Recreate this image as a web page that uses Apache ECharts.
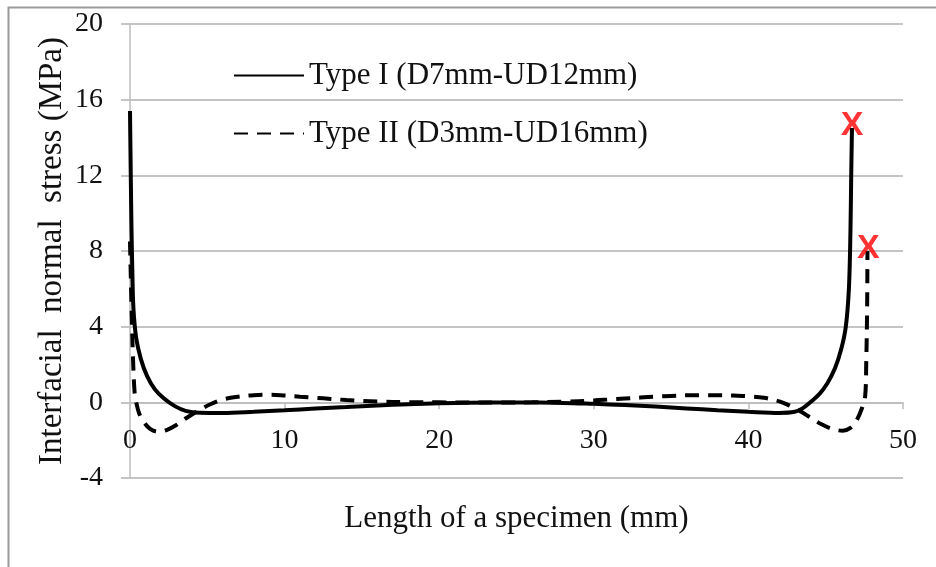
<!DOCTYPE html>
<html>
<head>
<meta charset="utf-8">
<script src="https://cdn.jsdelivr.net/npm/echarts@6/dist/echarts.min.js"></script>
<style>
html,body{margin:0;padding:0;background:#fff;}
#chart{width:936px;height:567px;}
</style>
</head>
<body>
<div id="chart"></div>
<script>
var seriesNames = ['Type I (D7mm-UD12mm)', 'Type II (D3mm-UD16mm)'];
var xTicks = [0, 10, 20, 30, 40, 50];
var yTicks = [-4, 0, 4, 8, 12, 16, 20];

var typeI = [[0,15.4],[0.05,12],[0.1,9],[0.15,7],[0.22,5],[0.4,3.4],[0.7,2.3],[1.1,1.4],[1.6,0.7],[2.2,0.2],[2.9,-0.2],[3.6,-0.45],[4.5,-0.55],[6,-0.56],[8,-0.5],[10,-0.42],[12,-0.33],[14,-0.25],[16,-0.17],[18,-0.1],[20,-0.05],[22,-0.02],[25,-0.01],[28,-0.03],[30,-0.08],[32,-0.14],[34,-0.22],[36,-0.32],[38,-0.42],[40,-0.5],[42,-0.56],[43,-0.5],[43.5,-0.32],[44,0],[44.6,0.45],[45.1,1.0],[45.6,1.8],[46,2.8],[46.3,4],[46.5,6],[46.6,9],[46.65,12],[46.7,14.5]];

var typeII = [[0,8.5],[0.1,5],[0.2,2.2],[0.3,0.5],[0.4,0],[0.6,-0.6],[0.9,-1.05],[1.3,-1.4],[1.8,-1.55],[2.4,-1.45],[3.0,-1.2],[3.7,-0.8],[4.4,-0.45],[5.2,-0.1],[6,0.15],[7,0.3],[8,0.38],[9,0.4],[10,0.36],[11,0.3],[12,0.24],[13,0.18],[14,0.12],[15,0.07],[16,0.04],[18,0.01],[20,0],[22,-0.01],[24,-0.01],[26,0],[28,0.03],[30,0.1],[31,0.15],[32,0.2],[33,0.25],[34,0.3],[35,0.34],[36,0.37],[37,0.38],[38,0.38],[39,0.36],[40,0.32],[41,0.24],[42,0.05],[42.6,-0.15],[43.3,-0.45],[44,-0.8],[44.7,-1.15],[45.4,-1.4],[46.1,-1.5],[46.6,-1.35],[47,-0.95],[47.35,-0.3],[47.55,0.3],[47.62,2],[47.68,5],[47.7,8]];

var failureMarks = [[46.7,14.65],[47.75,8.15]];

var serif = '"Liberation Serif","Times New Roman",serif';
var chart = echarts.init(document.getElementById('chart'), null, {renderer:'canvas'});
chart.setOption({
  animation: false,
  backgroundColor: '#fff',
  graphic: [{
    type: 'rect', left: 6, top: 5, silent: true,
    shape: {width: 940, height: 561},
    style: {fill: 'none', stroke: '#9a9a9a', lineWidth: 2}
  }],
  grid: {left: 130, right: 33, top: 24, bottom: 89, containLabel: false, outerBoundsMode: 'none'},
  legend: {
    orient: 'vertical', left: 233, top: 60, padding: 0,
    data: seriesNames,
    itemWidth: 70, itemHeight: 14, itemGap: 27,
    itemStyle: {color: 'rgba(0,0,0,0)', borderWidth: 0, opacity: 0},
    textStyle: {fontFamily: serif, fontSize: 31, color: '#111', lineHeight: 31, padding: [0,0,0,0]}
  },
  xAxis: {
    type: 'value', min: xTicks[0], max: xTicks[xTicks.length-1], interval: 10,
    name: 'Length of a specimen (mm)', nameLocation: 'middle', nameGap: 25,
    nameTextStyle: {fontFamily: serif, fontSize: 31, color: '#111'},
    axisLine: {onZero: true, lineStyle: {color: '#bdbdbd', width: 1.5}},
    axisTick: {show: true, length: 7, lineStyle: {color: '#bdbdbd', width: 1.5}},
    axisLabel: {fontFamily: serif, fontSize: 28, color: '#111', margin: -51},
    splitLine: {show: false}
  },
  yAxis: {
    type: 'value', min: yTicks[0], max: yTicks[yTicks.length-1], interval: 4,
    name: 'Interfacial  normal  stress (MPa)', nameLocation: 'middle', nameGap: 61,
    nameMoveOverlap: false,
    nameTextStyle: {fontFamily: serif, fontSize: 33, color: '#111'},
    axisLine: {show: true, onZero: false, lineStyle: {color: '#bdbdbd', width: 1.5}},
    axisTick: {show: true, length: 9, lineStyle: {color: '#c4c4c4', width: 2}},
    axisLabel: {fontFamily: serif, fontSize: 28, color: '#111', margin: 27},
    splitLine: {show: true, lineStyle: {color: '#c4c4c4', width: 2}}
  },
  series: [{
    name: seriesNames[0], type: 'line', data: typeI, showSymbol: false, symbol: 'none',
    smooth: 0.35,
    lineStyle: {color: '#000', width: 4, type: 'solid'}, itemStyle: {color: '#000'}, z: 3
  }, {
    name: seriesNames[1], type: 'line', data: typeII, showSymbol: false, symbol: 'none',
    smooth: 0.35,
    lineStyle: {color: '#000', width: 4, type: [14, 9]}, itemStyle: {color: '#000'}, z: 2
  }, {
    name: 'failure', type: 'scatter', data: failureMarks, symbolSize: 1,
    itemStyle: {color: 'rgba(0,0,0,0)'},
    label: {show: true, position: 'inside', formatter: 'X', color: '#ff0000',
      fontFamily: '"Liberation Sans Narrow","Liberation Sans",Arial,sans-serif', fontWeight: 'bold', fontSize: 34},
    z: 5
  }]
});
</script>
</body>
</html>
